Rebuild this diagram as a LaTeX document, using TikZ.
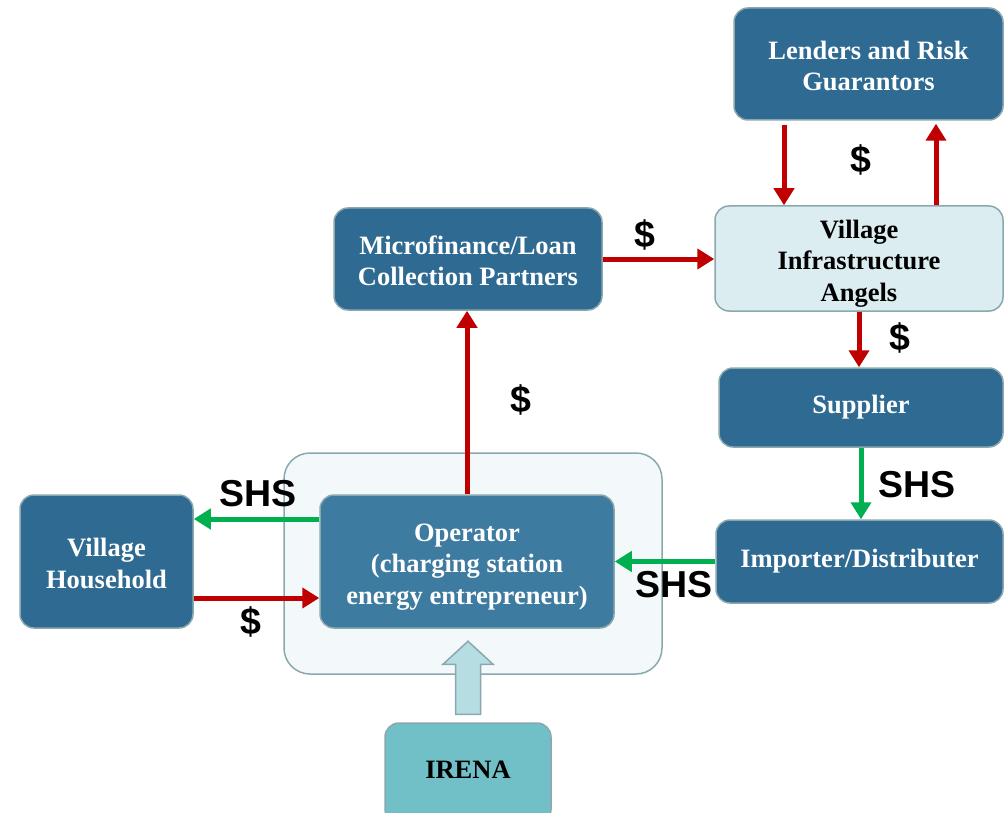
\documentclass[tikz,border=0pt]{standalone}
\usepackage{fontspec}
\setmainfont{Liberation Serif}
\newfontfamily\labelfont{Liberation Sans}
\usetikzlibrary{arrows.meta}
\definecolor{boxblue}{HTML}{2E6A91}
\definecolor{opblue}{HTML}{3E7BA0}
\definecolor{paleblue}{HTML}{DBEDF0}
\definecolor{teal}{HTML}{71BFC7}
\definecolor{groupfill}{HTML}{F3F9FA}
\definecolor{edgegray}{HTML}{8AA8AE}
\definecolor{moneyred}{HTML}{C00000}
\definecolor{goodsgreen}{HTML}{00B050}
\definecolor{liftfill}{HTML}{B6DDE2}
\tikzset{
  box/.style={draw=edgegray, line width=1.5pt, rounded corners=14pt, fill=boxblue,
    text=white, align=center, font=\fontsize{26.5}{31.5}\selectfont\bfseries, inner sep=0pt},
  lightbox/.style={box, fill=paleblue, text=black},
  twolines/.style={text height=53.5pt},
  threelines/.style={text height=91pt},
  money/.style={draw=moneyred, line width=5pt, -{Triangle[length=17pt,width=20pt]}},
  goods/.style={draw=goodsgreen, line width=5pt, -{Triangle[length=17pt,width=20pt]}},
  flowlabel/.style={font=\labelfont\fontsize{37.5}{37.5}\selectfont\bfseries, text=black, inner sep=0pt}
}
\begin{document}
\begin{tikzpicture}[x=1pt, y=-1pt]
\useasboundingbox (0,0) rectangle (1004,813);

% operator group frame
\node[draw=edgegray, line width=1.5pt, rounded corners=26pt, fill=groupfill,
      minimum width=378pt, minimum height=221pt] (group) at (473,563.5) {};

% actors
\node[box, twolines, minimum width=269pt, minimum height=112pt] (lenders) at (868.5,64)
  {Lenders and Risk\\Guarantors};
\node[lightbox, threelines, minimum width=288pt, minimum height=105pt] (via) at (859,258.5)
  {Village\\Infrastructure\\Angels};
\node[box, twolines, minimum width=268pt, minimum height=102pt] (micro) at (468,259)
  {Microfinance/Loan\\Collection Partners};
\node[box, minimum width=284pt, minimum height=79pt] (supplier) at (861,407.5)
  {Supplier};
\node[box, minimum width=287pt, minimum height=83pt] (importer) at (859.5,561.5)
  {Importer/Distributer};
\node[box, threelines, fill=opblue, minimum width=294pt, minimum height=133pt] (operator) at (467,561.5)
  {Operator\\(charging station\\energy entrepreneur)};
\node[box, twolines, minimum width=173pt, minimum height=133pt] (household) at (106.5,561.5)
  {Village\\Household};
\node[box, fill=teal, text=black, minimum width=166pt, minimum height=100pt] (irena) at (468,773)
  {};
\node[font=\fontsize{26.5}{31.5}\selectfont\bfseries] (irenatext) at (468,770) {IRENA};

% support arrow from IRENA
\draw[draw=edgegray, line width=1.5pt, fill=liftfill]
  ([xshift=-12.5pt, yshift=8pt]irena.north) -- ++(0,-50) -- ++(-12.5,0) -- ++(25,-23)
  -- ++(25,23) -- ++(-12.5,0) -- ++(0,50) -- cycle;

% money flows
\draw[money] ([xshift=-84.5pt, yshift=-4pt]lenders.south) -- ([xshift=-75pt]via.north);
\draw[money] ([xshift=77pt]via.north) -- ([xshift=67.5pt, yshift=-3pt]lenders.south);
\draw[money] (micro.east) -- (micro.east -| via.west);
\draw[money] (via.south) -- (via.south |- supplier.north);
\draw[money] (operator.north) -- (operator.north |- micro.south);
\draw[money] ([yshift=-36.5pt]household.east) -- ([yshift=-36.5pt]operator.west);

% goods flows
\draw[goods] (supplier.south) -- (supplier.south |- importer.north);
\draw[goods] (importer.west) -- (operator.east);
\draw[goods] ([yshift=42.5pt]operator.west) -- ([yshift=42.5pt]household.east);

% flow labels
\node[flowlabel] (l1) at (861,160) {\$};
\node[flowlabel] (l2) at (645,235) {\$};
\node[flowlabel] (l3) at (900,338) {\$};
\node[flowlabel] (l4) at (917,485) {SHS};
\node[flowlabel] (l5) at (674,585) {SHS};
\node[flowlabel] (l6) at (521,400) {\$};
\node[flowlabel] (l7) at (258,494) {SHS};
\node[flowlabel] (l8) at (251,622) {\$};
\end{tikzpicture}
\end{document}
